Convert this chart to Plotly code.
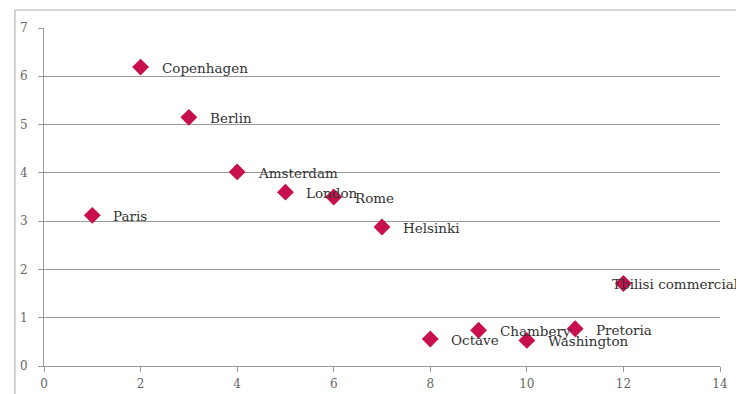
import plotly.graph_objects as go

cities = ["Paris", "Copenhagen", "Berlin", "Amsterdam", "London", "Rome", "Helsinki",
          "Octave", "Chambery", "Washington", "Pretoria", "Tbilisi commercial"]
x_vals = [1, 2, 3, 4, 5, 6, 7, 8, 9, 10, 11, 12]
y_vals = [3.12, 6.19, 5.15, 4.02, 3.6, 3.5, 2.88, 0.56, 0.74, 0.53, 0.77, 1.71]
label_shift = [19, 19, 19, 19, 19, 19, 19, 19, 19, 19, 19, -13]

fig = go.Figure()
fig.add_trace(go.Scatter(
    x=x_vals, y=y_vals, mode="markers",
    marker=dict(symbol="diamond", size=13, color="#C8104E",
                line=dict(width=0)),
    cliponaxis=False, showlegend=False,
))

for c, xv, yv, s in zip(cities, x_vals, y_vals, label_shift):
    fig.add_annotation(x=xv, y=yv, text=c, showarrow=False, xanchor="left",
                       xshift=s, yshift=-1,
                       font=dict(family="DejaVu Serif", size=13.5, color="#333333"))

fig.update_layout(
    width=744, height=394,
    margin=dict(l=36, r=32, t=20, b=36),
    paper_bgcolor="white", plot_bgcolor="white",
    font=dict(family="DejaVu Serif", size=12, color="#666666"),
    xaxis=dict(range=[0, 14], dtick=2, showgrid=False, zeroline=False, automargin=False,
               showline=True, linecolor="#999999", linewidth=1,
               ticks="outside", ticklen=5, tickcolor="#999999", ticklabelstandoff=2),
    yaxis=dict(range=[0, 7], dtick=1, showgrid=True, gridcolor="#999999", gridwidth=1,
               zeroline=False, showline=True, linecolor="#999999", linewidth=1, automargin=False,
               ticks="outside", ticklen=5, tickcolor="#999999", ticklabelstandoff=8),
    shapes=[
        dict(type="line", xref="paper", yref="paper", x0=-0.043, x1=1.2, y0=1.053, y1=1.053,
             line=dict(color="#aaaaaa", width=1)),
        dict(type="line", xref="paper", yref="paper", x0=-0.043, x1=-0.043, y0=-0.2, y1=1.053,
             line=dict(color="#aaaaaa", width=1)),
    ],
)

fig.write_html("out.html")
